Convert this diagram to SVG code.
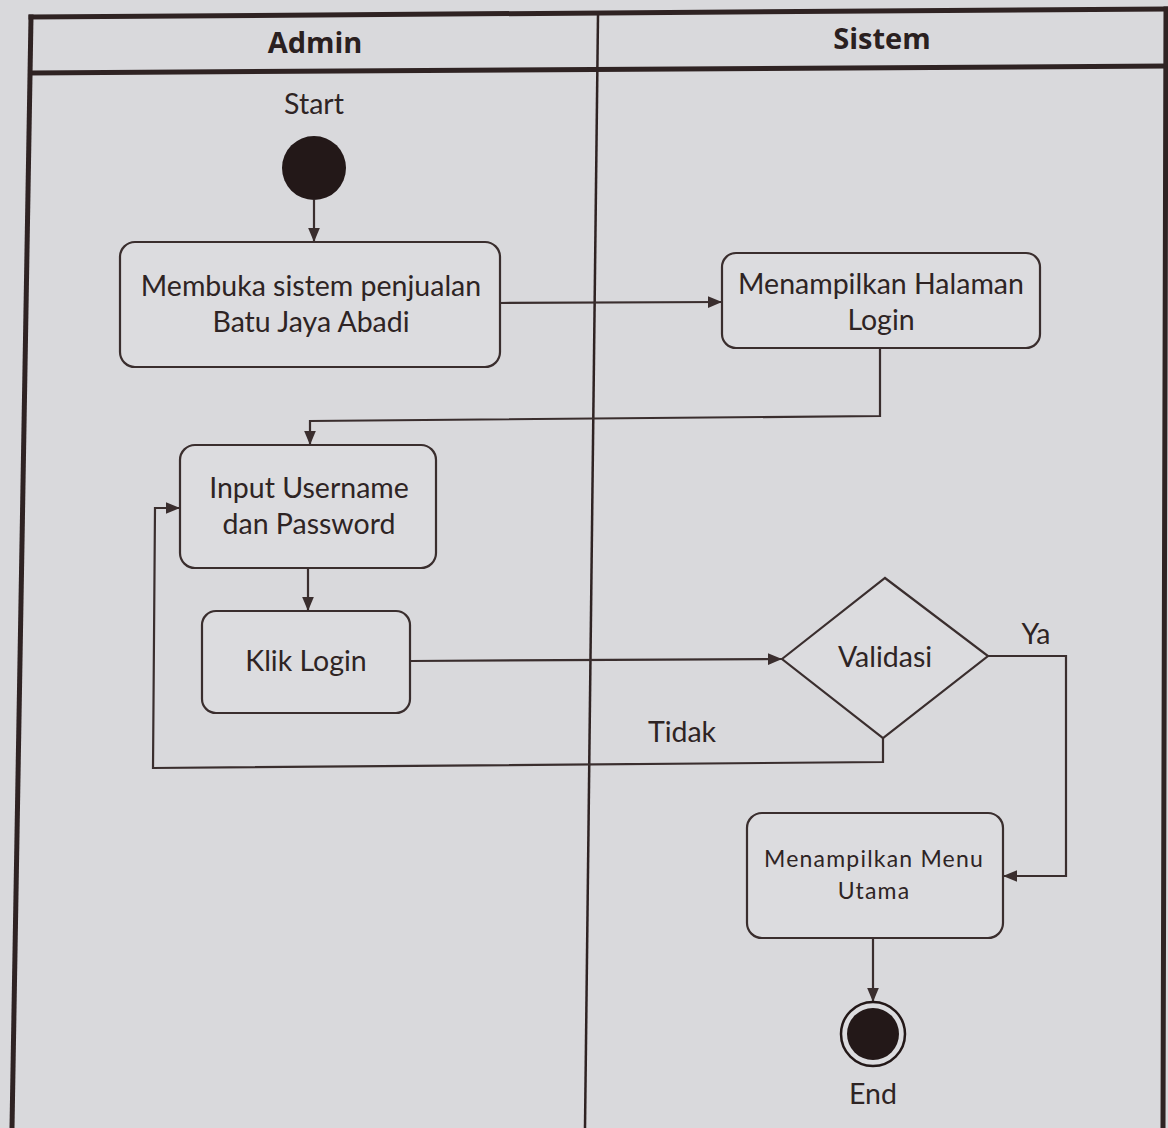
<svg xmlns="http://www.w3.org/2000/svg" width="1168" height="1128" viewBox="0 0 1168 1128">
<defs>
<style>
.frame{stroke:#2f2323;stroke-width:5;fill:none;stroke-linecap:square}
.thin{stroke:#2f2323;stroke-width:2.5;fill:none}
.box{fill:#dcdcdf;stroke:#3a2e2e;stroke-width:2.2}
.conn{stroke:#3a2e2e;stroke-width:2.2;fill:none}
.t{font-family:Lato,"Open Sans",sans-serif;fill:#2e2424;text-anchor:middle;font-size:28.5px}
.h{font-family:"Open Sans",Lato,sans-serif;font-weight:bold;font-size:29px;fill:#2a2020;text-anchor:middle}
</style>
<marker id="arr2" viewBox="0 0 12 10" refX="12" refY="5" markerWidth="14" markerHeight="12" orient="auto" markerUnits="userSpaceOnUse">
<path d="M0,0 L12,5 L0,10 z" fill="#3a2e2e"/>
</marker>
</defs>
<rect width="1168" height="1128" fill="#d9d9dc"/>
<g id="frame">
<line class="frame" x1="31" y1="17" x2="1166" y2="9"/>
<line class="frame" x1="31" y1="73" x2="1166" y2="66"/>
<line class="frame" x1="31" y1="17" x2="12" y2="1128"/>
<line class="frame" x1="1166" y1="9" x2="1163" y2="1128"/>
<line class="thin" x1="598" y1="15" x2="585" y2="1128"/>
<text class="h" x="315" y="53">Admin</text>
<text class="h" x="882" y="49">Sistem</text>
</g>
<g id="connectors">
<line class="conn" x1="314" y1="200" x2="314" y2="242" marker-end="url(#arr2)"/>
<line class="conn" x1="500" y1="303" x2="722" y2="302" marker-end="url(#arr2)"/>
<polyline class="conn" points="880,348 880,416 310,421 310,445" marker-end="url(#arr2)"/>
<line class="conn" x1="308" y1="568" x2="308" y2="611" marker-end="url(#arr2)"/>
<line class="conn" x1="410" y1="661" x2="782" y2="659" marker-end="url(#arr2)"/>
<polyline class="conn" points="988,656 1066,656 1066,876 1003,876" marker-end="url(#arr2)"/>
<polyline class="conn" points="883,738 883,762 153,768 155,508 180,508" marker-end="url(#arr2)"/>
<line class="conn" x1="873" y1="938" x2="873" y2="1002" marker-end="url(#arr2)"/>
<text class="t" x="1036" y="644">Ya</text>
<text class="t" x="682" y="742">Tidak</text>
</g>
<g id="start">
<text class="t" x="314" y="114">Start</text>
<circle cx="314" cy="168" r="32" fill="#231818"/>
</g>
<g id="membuka">
<rect class="box" x="120" y="242" width="380" height="125" rx="15"/>
<text class="t" x="311" y="296">Membuka sistem penjualan</text>
<text class="t" x="311" y="332">Batu Jaya Abadi</text>
</g>
<g id="halaman-login">
<rect class="box" x="722" y="253" width="318" height="95" rx="14"/>
<text class="t" x="881" y="294">Menampilkan Halaman</text>
<text class="t" x="881" y="330">Login</text>
</g>
<g id="input">
<rect class="box" x="180" y="445" width="256" height="123" rx="15"/>
<text class="t" x="309" y="498">Input Username</text>
<text class="t" x="309" y="534">dan Password</text>
</g>
<g id="klik-login">
<rect class="box" x="202" y="611" width="208" height="102" rx="14"/>
<text class="t" x="306" y="671">Klik Login</text>
</g>
<g id="validasi">
<polygon class="box" points="782,659 885,578 988,656 883,738"/>
<text class="t" x="885" y="667">Validasi</text>
</g>
<g id="menu-utama">
<rect class="box" x="747" y="813" width="256" height="125" rx="15"/>
<text class="t" x="874" y="867" style="font-size:23px" letter-spacing="1.2">Menampilkan Menu</text>
<text class="t" x="874" y="899" style="font-size:23px" letter-spacing="1.2">Utama</text>
</g>
<g id="end">
<circle cx="873" cy="1034" r="32" fill="#dcdcdf" stroke="#231818" stroke-width="2.5"/>
<circle cx="873" cy="1034" r="26" fill="#231818"/>
<text class="t" x="873" y="1104">End</text>
</g>
</svg>
